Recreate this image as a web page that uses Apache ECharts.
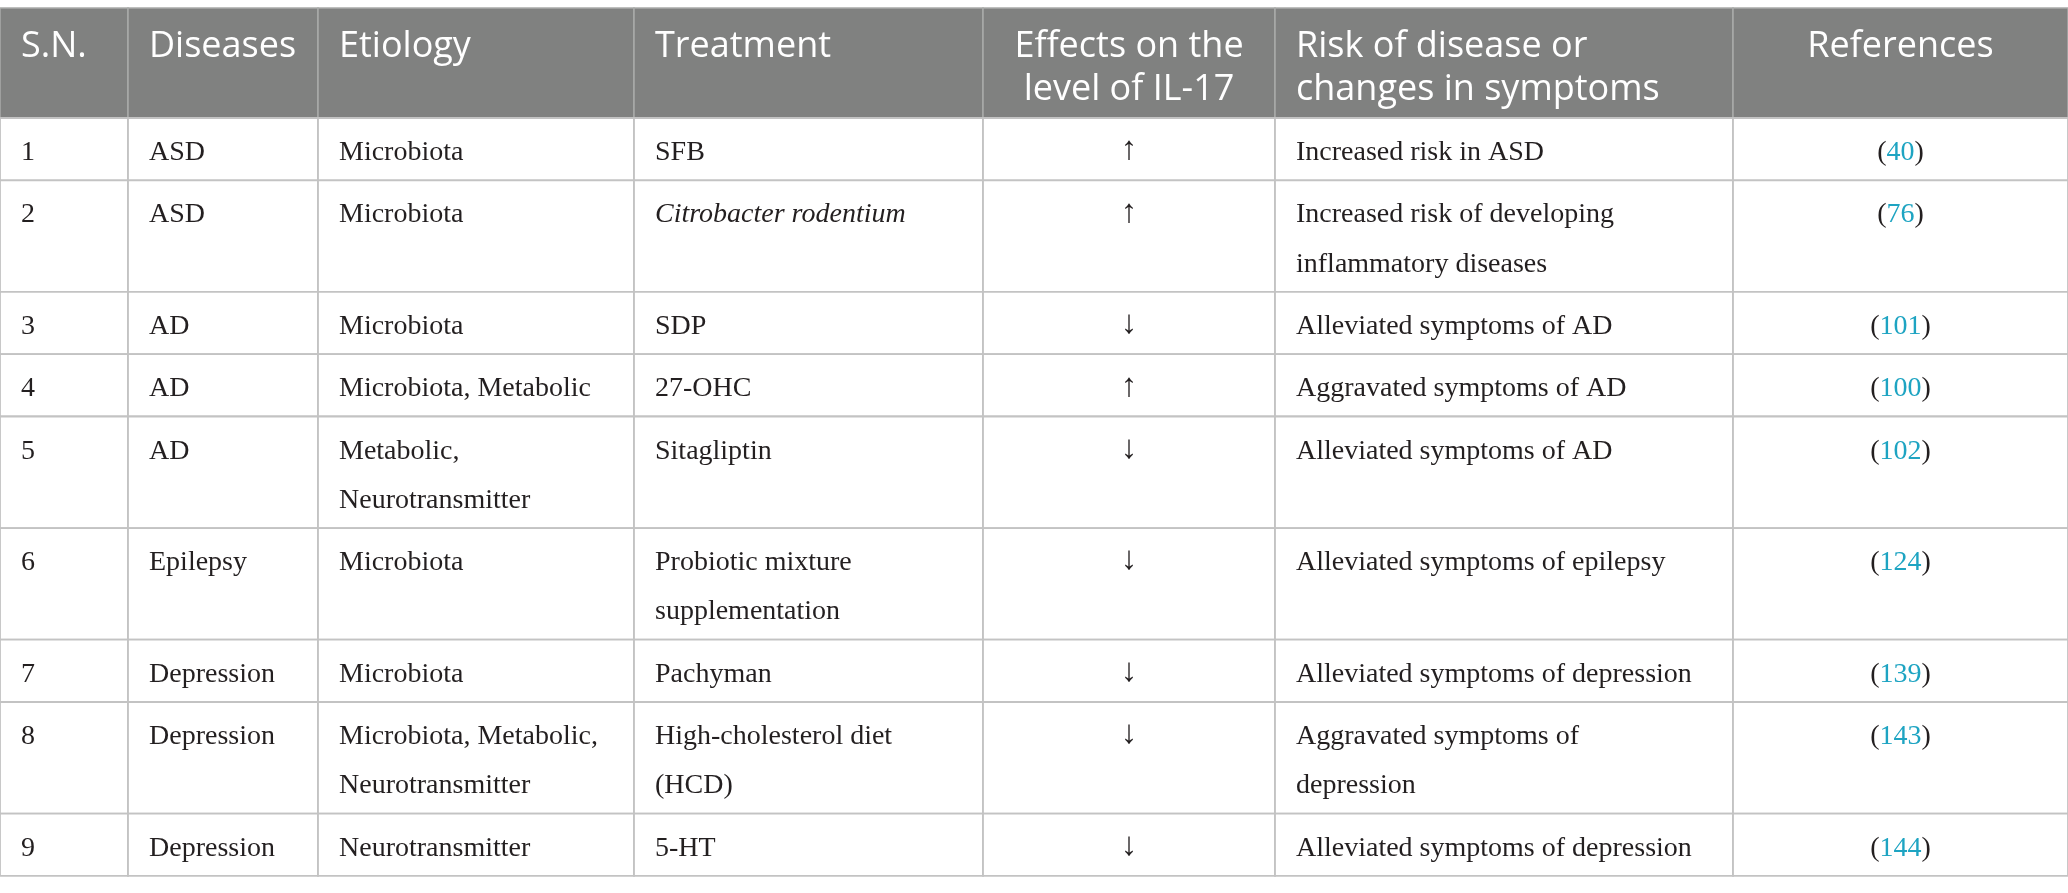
<!DOCTYPE html>
<html>
<head>
<meta charset="utf-8">
<script src="https://cdn.jsdelivr.net/npm/echarts@6/dist/echarts.min.js"></script>
<style>
  html, body { margin: 0; padding: 0; background: #fff; }
  #main { width: 2068px; height: 893px; }
</style>
</head>
<body>
<div id="main"></div>
<script>
// table content
const headers = ['S.N.', 'Diseases', 'Etiology', 'Treatment', 'Effects on the\nlevel of IL-17', 'Risk of disease or\nchanges in symptoms', 'References'];
const serialNo = ['1', '2', '3', '4', '5', '6', '7', '8', '9'];
const diseases = ['ASD', 'ASD', 'AD', 'AD', 'AD', 'Epilepsy', 'Depression', 'Depression', 'Depression'];
const etiology = ['Microbiota', 'Microbiota', 'Microbiota', 'Microbiota, Metabolic', 'Metabolic,\nNeurotransmitter', 'Microbiota', 'Microbiota', 'Microbiota, Metabolic,\nNeurotransmitter', 'Neurotransmitter'];
const treatment = ['SFB', 'Citrobacter rodentium', 'SDP', '27-OHC', 'Sitagliptin', 'Probiotic mixture\nsupplementation', 'Pachyman', 'High-cholesterol diet\n(HCD)', '5-HT'];
const effectIL17 = ['↑', '↑', '↓', '↑', '↓', '↓', '↓', '↓', '↓'];
const riskOrSymptoms = ['Increased risk in ASD', 'Increased risk of developing\ninflammatory diseases', 'Alleviated symptoms of AD', 'Aggravated symptoms of AD', 'Alleviated symptoms of AD', 'Alleviated symptoms of epilepsy', 'Alleviated symptoms of depression', 'Aggravated symptoms of\ndepression', 'Alleviated symptoms of depression'];
const refs = ['40', '76', '101', '100', '102', '124', '139', '143', '144'];
const italicTreatment = [false, true, false, false, false, false, false, false, false];

// layout
const W = 2068, H = 893;
const colEdges = [0, 128, 318, 634, 983, 1275, 1733, 2068];
const centered = [false, false, false, false, true, false, true];
const tableTop = 8, headerH = 110, rowBase = 62.3, lineStep = 49.3;

const columns = [serialNo, diseases, etiology, treatment, effectIL17, riskOrSymptoms, refs];
const rowEdges = [tableTop, tableTop + headerH];
for (let r = 0; r < serialNo.length; r++) {
  let lines = 1;
  columns.forEach(col => { lines = Math.max(lines, col[r].split('\n').length); });
  rowEdges.push(rowEdges[rowEdges.length - 1] + rowBase + lineStep * (lines - 1));
}

const cells = [];
for (let r = 0; r <= serialNo.length; r++) {
  for (let c = 0; c < headers.length; c++) cells.push([c, r]);
}

const serif = '"Liberation Serif", "DejaVu Serif", serif';
const sans = '"Open Sans", "Noto Sans", sans-serif';
const ink = '#231f20';
const teal = '#1ea4c2';

const chart = echarts.init(document.getElementById('main'));
chart.setOption({
  animation: false,
  grid: { left: 0, right: 0, top: 0, bottom: 0 },
  xAxis: { type: 'value', min: 0, max: W, show: false },
  yAxis: { type: 'value', min: 0, max: H, inverse: true, show: false },
  series: [{
    type: 'custom',
    coordinateSystem: 'cartesian2d',
    data: cells,
    renderItem: function (params, api) {
      const c = api.value(0), r = api.value(1);
      const p0 = api.coord([colEdges[c], rowEdges[r]]);
      const p1 = api.coord([colEdges[c + 1], rowEdges[r + 1]]);
      const isHead = r === 0;
      const mid = centered[c];
      const rect = {
        type: 'rect',
        shape: { x: p0[0], y: p0[1], width: p1[0] - p0[0], height: p1[1] - p0[1] },
        style: isHead
          ? { fill: '#808180', stroke: '#a9aaa9', lineWidth: 1.5 }
          : { fill: '#ffffff', stroke: '#c3c3c3', lineWidth: 1.8 }
      };
      let text;
      if (isHead) {
        text = {
          type: 'text',
          style: {
            text: headers[c],
            x: mid ? (p0[0] + p1[0]) / 2 : p0[0] + 21,
            y: p0[1] + 17,
            align: mid ? 'center' : 'left',
            verticalAlign: 'top',
            fontFamily: sans,
            fontSize: 36,
            lineHeight: 43,
            fill: '#ffffff'
          }
        };
      } else {
        const i = r - 1;
        const base = {
          x: mid ? (p0[0] + p1[0]) / 2 : p0[0] + 21,
          y: p0[1] + 10,
          align: mid ? 'center' : 'left',
          verticalAlign: 'top',
          fontFamily: serif,
          fontSize: 28,
          lineHeight: 49.3,
          fill: ink
        };
        if (c === 6) {
          base.text = '{p|(}{n|' + refs[i] + '}{p|)}';
          base.rich = {
            p: { fill: ink, fontFamily: serif, fontSize: 28, lineHeight: 49.3 },
            n: { fill: teal, fontFamily: serif, fontSize: 28, lineHeight: 49.3 }
          };
        } else if (c === 4) {
          base.text = effectIL17[i];
          base.fontSize = 33;
          base.y = p0[1] + 8;
        } else {
          base.text = columns[c][i];
          if (c === 3 && italicTreatment[i]) base.fontStyle = 'italic';
        }
        text = { type: 'text', style: base };
      }
      return { type: 'group', children: [rect, text] };
    }
  }]
});
</script>
</body>
</html>
